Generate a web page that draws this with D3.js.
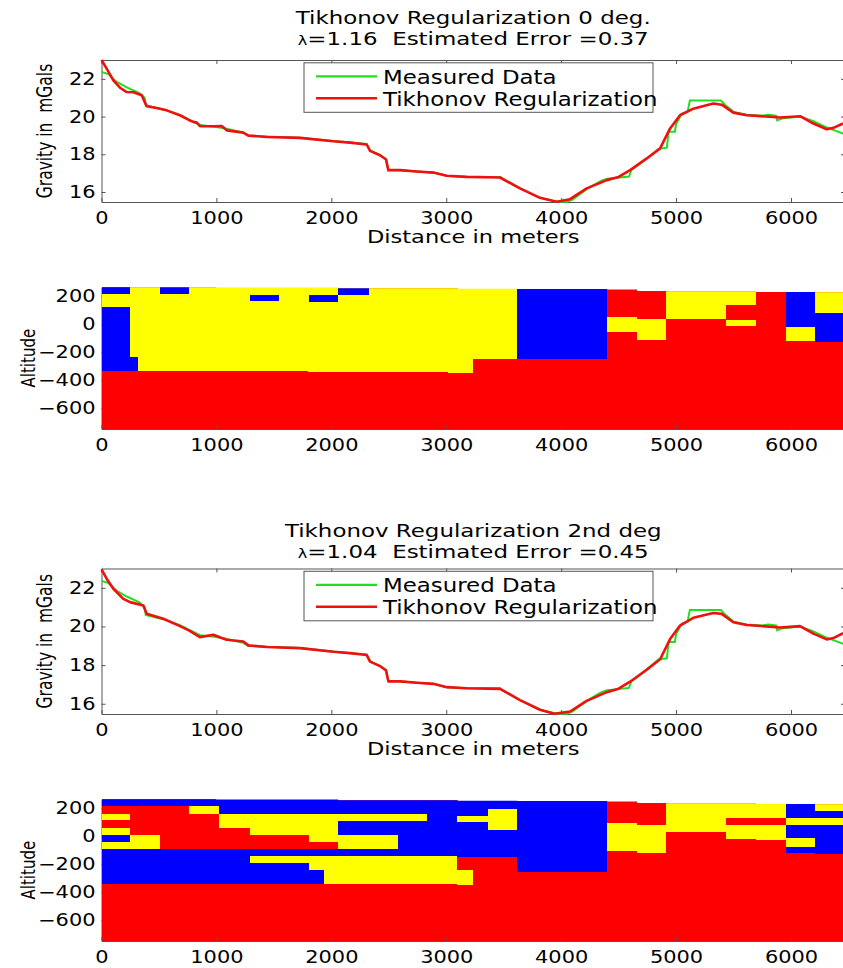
<!DOCTYPE html>
<html>
<head>
<meta charset="utf-8">
<script src="https://cdn.jsdelivr.net/npm/d3@7"></script>
<style>
  body { margin: 0; background: #fff; }
  svg text { font-family: "DejaVu Sans", Verdana, sans-serif; fill: #000; white-space: pre; }
</style>
</head>
<body>
<svg id="fig" width="843" height="968"></svg>
<script>
// ---- data (distance in m, gravity in mGal, altitude in m) ----
var X_TICKS = [0, 1000, 2000, 3000, 4000, 5000, 6000];
var G_TICKS = [16, 18, 20, 22];
var ALT_TICKS = [-600, -400, -200, 0, 200];

var MEASURED = [
  [0, 22.36], [60, 22.25], [130, 21.85], [220, 21.55], [330, 21.25], [375, 21.0], [385, 20.6],
  [480, 20.45], [567, 20.33], [683, 20.07], [799, 19.72], [857, 19.55], [1000, 19.45], [1090, 19.35],
  [1234, 19.15], [1278, 18.99], [1438, 18.95], [1727, 18.88], [2017, 18.70], [2163, 18.62],
  [2308, 18.55], [2337, 18.2], [2424, 17.95], [2476, 17.75], [2496, 17.16], [2598, 17.16],
  [2743, 17.09], [2888, 17.03], [3004, 16.86], [3178, 16.80], [3470, 16.80], [3490, 16.70],
  [3642, 16.19], [3816, 15.69], [3962, 15.48], [4050, 15.48], [4100, 15.60], [4222, 16.15],
  [4350, 16.60], [4400, 16.70], [4590, 16.82], [4610, 17.15], [4745, 17.78], [4850, 18.30],
  [4920, 18.35], [4935, 19.2], [4990, 19.2], [5000, 19.6], [5050, 20.15], [5100, 20.25],
  [5120, 20.85], [5390, 20.85], [5430, 20.6], [5500, 20.25], [5615, 20.1], [5750, 20.05],
  [5800, 20.10], [5870, 20.05], [5880, 19.80], [5920, 19.9], [6079, 20.00], [6195, 19.75],
  [6300, 19.45], [6453, 19.10]
];

var TIKH_0 = [
  [0, 23.0], [45, 22.54], [103, 21.92], [161, 21.53], [219, 21.30], [277, 21.29], [350, 21.13],
  [370, 20.86], [393, 20.55], [480, 20.45], [567, 20.33], [683, 20.07], [760, 19.82], [799, 19.72],
  [830, 19.68], [857, 19.49], [973, 19.49], [1046, 19.50], [1090, 19.27], [1234, 19.15],
  [1278, 18.99], [1438, 18.92], [1727, 18.87], [2017, 18.69], [2163, 18.62], [2308, 18.52],
  [2337, 18.18], [2424, 17.95], [2476, 17.72], [2496, 17.16], [2598, 17.16], [2743, 17.09],
  [2888, 17.03], [3004, 16.86], [3178, 16.80], [3468, 16.77], [3642, 16.19], [3816, 15.69],
  [3962, 15.48], [4077, 15.62], [4222, 16.19], [4397, 16.63], [4500, 16.80], [4600, 17.16],
  [4745, 17.78], [4861, 18.31], [4948, 19.37], [5034, 20.07], [5150, 20.42], [5324, 20.69],
  [5397, 20.63], [5498, 20.21], [5615, 20.07], [5905, 19.95], [6079, 20.02], [6195, 19.63],
  [6311, 19.33], [6369, 19.40], [6453, 19.63]
];

var TIKH_2 = [
  [0, 22.95], [45, 22.47], [103, 21.95], [190, 21.43], [248, 21.26], [364, 21.09], [393, 20.66],
  [538, 20.40], [683, 20.02], [760, 19.80], [799, 19.66], [857, 19.45], [973, 19.57], [1046, 19.40],
  [1090, 19.31], [1234, 19.22], [1278, 19.02], [1438, 18.94], [1727, 18.88], [2017, 18.69],
  [2163, 18.62], [2308, 18.52], [2337, 18.18], [2424, 17.95], [2476, 17.72], [2496, 17.16],
  [2598, 17.16], [2743, 17.09], [2888, 17.03], [3004, 16.86], [3178, 16.80], [3468, 16.77],
  [3642, 16.19], [3816, 15.69], [3940, 15.48], [4077, 15.60], [4222, 16.15], [4397, 16.60],
  [4500, 16.78], [4600, 17.14], [4745, 17.76], [4861, 18.30], [4948, 19.35], [5034, 20.05],
  [5150, 20.45], [5324, 20.70], [5397, 20.65], [5498, 20.22], [5615, 20.08], [5905, 19.95],
  [6079, 20.02], [6195, 19.63], [6311, 19.33], [6369, 19.40], [6453, 19.65]
];

// ground surface of the block model: [from, to, elevation]
var TOPO = [
  [0, 1000, 266], [1000, 2060, 263], [2060, 3100, 259], [3100, 3618, 255], [3618, 4401, 252],
  [4401, 4662, 250], [4662, 4912, 241], [4912, 5695, 236], [5695, 6208, 232], [6208, 6470, 230]
];

// model cells drawn over the red background: [from, to, top, bottom, class]
// a top of 400 means "up to the ground surface"
var CELLS_0 = [
  [250, 1800, 400, -337, 'Y'], [1800, 3018, 400, -341, 'Y'], [3018, 3230, 400, -346, 'Y'],
  [3230, 3618, 400, -250, 'Y'], [0, 250, 219, 121, 'Y'],
  [0, 250, 400, 219, 'B'], [0, 250, 121, -332, 'B'], [250, 315, -234, -332, 'B'],
  [509, 764, 400, 219, 'B'], [1292, 1545, 212, 164, 'B'], [1806, 2061, 207, 162, 'B'],
  [2061, 2325, 400, 210, 'B'], [3618, 4401, 400, -252, 'B'],
  [4401, 4662, 50, -55, 'Y'], [4662, 4912, 38, -115, 'Y'], [4912, 5434, 400, 35, 'Y'],
  [5434, 5695, 400, 136, 'Y'], [5434, 5695, 32, -14, 'Y'],
  [5953, 6208, 400, -17, 'B'], [5953, 6208, -17, -117, 'Y'],
  [6208, 6470, 400, 80, 'Y'], [6208, 6470, 80, -127, 'B']
];

var CELLS_2 = [
  [0, 1025, 400, 215, 'B'], [1025, 2836, 400, 162, 'B'], [2836, 3094, 400, -148, 'B'],
  [3094, 3363, 400, 148, 'B'], [3094, 3363, 148, 105, 'Y'], [3094, 3363, 105, -148, 'B'],
  [3094, 3230, -244, -346, 'Y'],
  [3363, 3618, 400, 198, 'B'], [3363, 3618, 198, 48, 'Y'], [3363, 3618, 48, -150, 'B'],
  [3618, 4401, 400, -255, 'B'],
  [0, 250, 162, 115, 'Y'], [0, 250, 62, 12, 'Y'], [0, 250, 12, -38, 'B'], [0, 250, -38, -90, 'Y'],
  [250, 509, 12, -90, 'Y'], [0, 1292, -90, -339, 'B'],
  [764, 1025, 215, 162, 'Y'], [1025, 1292, 162, 62, 'Y'],
  [1292, 1806, 162, 10, 'Y'], [1292, 1806, -90, -143, 'B'], [1292, 1806, -143, -193, 'Y'],
  [1292, 1806, -193, -339, 'B'],
  [1806, 2061, 162, -40, 'Y'], [1806, 1936, -90, -143, 'B'], [1806, 1936, -143, -244, 'Y'],
  [1806, 1936, -244, -339, 'B'], [1936, 2061, -90, -143, 'B'], [1936, 3094, -143, -339, 'Y'],
  [2061, 2578, 162, 110, 'Y'], [2061, 2578, 110, 12, 'B'], [2061, 2578, 12, -90, 'Y'],
  [2061, 2578, -90, -143, 'B'], [2578, 2836, 162, 110, 'Y'], [2578, 2836, 110, -143, 'B'],
  [4401, 4662, 92, -108, 'Y'], [4662, 4912, 79, -117, 'Y'], [4912, 5434, 400, 31, 'Y'],
  [5434, 5953, 400, 131, 'Y'], [5434, 5695, 79, -17, 'Y'], [5695, 5953, 79, -24, 'Y'],
  [5953, 6208, 400, 131, 'B'], [5953, 6208, 131, 79, 'Y'], [5953, 6208, 79, -15, 'B'],
  [5953, 6208, -15, -75, 'Y'], [5953, 6208, -75, -120, 'B'],
  [6208, 6470, 400, 181, 'Y'], [6208, 6470, 181, 131, 'B'], [6208, 6470, 131, 79, 'Y'],
  [6208, 6470, 79, -124, 'B']
];

// ---- drawing ----
var COLORS = {R: '#ff0000', Y: '#ffff00', B: '#0000ff'};
var AXIS = '#555';
var SX = 1.23;   // the figure is stretched horizontally

var svg = d3.select('#fig');
var x = d3.scaleLinear().domain([0, 6470]).range([101.5, 845]);

function label(g, txt, px, py, size, anchor, sx) {
    return g.append('text')
        .attr('transform', 'translate(' + px + ',' + py + ') scale(' + sx + ',1)')
        .attr('text-anchor', anchor)
        .style('font-size', size + 'px')
        .text(txt);
}

function tidyAxis(g) {
    g.attr('font-family', null).attr('font-size', null);
    g.selectAll('path, line').attr('stroke', AXIS);
}

function bottomAxis(g, yPos) {
    var a = g.append('g')
        .attr('transform', 'translate(0,' + yPos + ')')
        .call(d3.axisBottom(x).tickValues(X_TICKS).tickFormat(d3.format('d'))
            .tickSizeInner(-4).tickSizeOuter(0).tickPadding(9.5));
    tidyAxis(a);
    a.selectAll('text').attr('transform', 'scale(' + SX + ',1)').style('font-size', '17px');
    return a;
}

function leftAxis(g, y, ticks) {
    var a = g.append('g')
        .attr('transform', 'translate(' + x.range()[0] + ',0)')
        .call(d3.axisLeft(y).tickValues(ticks).tickFormat(d3.format('d'))
            .tickSizeInner(-4).tickSizeOuter(0));
    tidyAxis(a);
    a.selectAll('text').attr('x', null)
        .attr('transform', 'translate(-6,0) scale(' + SX + ',1)')
        .style('font-size', '17px');
    return a;
}

function rotLabel(g, txt, px, py, size, thick) {
    g.append('text')
        .attr('transform', 'translate(' + px + ',' + py + ') rotate(-90) scale(1,' + thick + ')')
        .attr('text-anchor', 'middle')
        .style('font-size', size + 'px')
        .text(txt);
}

function gravityPanel(top, bottom, tikh, title1, lam, err, titleY) {
    var g = svg.append('g');
    var y = d3.scaleLinear().domain([15.47, 23.0]).range([bottom, top]);
    var cx = (x.range()[0] + x.range()[1]) / 2;

    // titles
    label(g, title1, cx, titleY[0], 18.5, 'middle', 1.24);
    var t2 = g.append('text')
        .attr('transform', 'translate(' + cx + ',' + titleY[1] + ') scale(1.24,1)')
        .attr('text-anchor', 'middle')
        .style('font-size', '18.5px');
    t2.append('tspan').style('font-size', '13px').text('\u03bb');
    t2.append('tspan').text('=' + lam + '  Estimated Error =' + err);

    // frame
    bottomAxis(g, bottom);
    leftAxis(g, y, G_TICKS);
    var topA = g.append('g').attr('transform', 'translate(0,' + top + ')')
        .call(d3.axisTop(x).tickValues(X_TICKS).tickFormat('').tickSizeInner(-4).tickSizeOuter(0));
    tidyAxis(topA);
    var rightA = g.append('g').attr('transform', 'translate(' + x.range()[1] + ',0)')
        .call(d3.axisRight(y).tickValues(G_TICKS).tickFormat('').tickSizeInner(-4).tickSizeOuter(0));
    tidyAxis(rightA);

    var line = d3.line()
        .x(function(d) { return x(d[0]); })
        .y(function(d) { return y(d[1]); });

    g.append('path').attr('d', line(MEASURED))
        .attr('fill', 'none').attr('stroke', '#1fe01f').attr('stroke-width', 2);
    g.append('path').attr('d', line(tikh))
        .attr('fill', 'none').attr('stroke', '#f01010').attr('stroke-width', 2.6)
        .attr('stroke-linejoin', 'round');

    // axis labels
    label(g, 'Distance in meters', cx, bottom + 40.7, 18.3, 'middle', SX);
    rotLabel(g, 'Gravity in  mGals', 52, (top + bottom) / 2, 15.5, 1.35);

    // legend
    var lg = g.append('g').attr('transform', 'translate(304,' + (top + 2.8) + ')');
    lg.append('rect').attr('width', 349).attr('height', 49.5)
        .attr('fill', '#fff').attr('stroke', AXIS);
    lg.append('line').attr('x1', 12).attr('x2', 73).attr('y1', 13.5).attr('y2', 13.5)
        .attr('stroke', '#1fe01f').attr('stroke-width', 2.2);
    lg.append('line').attr('x1', 12).attr('x2', 73).attr('y1', 35.5).attr('y2', 35.5)
        .attr('stroke', '#f01010').attr('stroke-width', 2.6);
    label(lg, 'Measured Data', 79, 21, 18.6, 'start', SX);
    label(lg, 'Tikhonov Regularization', 79, 43, 18.6, 'start', SX);
}

function modelPanel(top, bottom, cells, id) {
    var g = svg.append('g');
    var y = d3.scaleLinear().domain([-750, 265]).range([bottom, top]);

    leftAxis(g, y, ALT_TICKS);

    // clip to the ground surface
    var surf = [[0, -750]];
    TOPO.forEach(function(s) { surf.push([s[0], s[2]]); surf.push([s[1], s[2]]); });
    surf.push([6470, -750]);
    g.append('clipPath').attr('id', id)
        .append('path')
        .attr('d', d3.line().x(function(d) { return x(d[0]); }).y(function(d) { return y(d[1]); })(surf) + 'Z');

    var body = g.append('g').attr('clip-path', 'url(#' + id + ')')
        .attr('shape-rendering', 'crispEdges');

    body.selectAll('rect.base').data(TOPO).enter().append('rect')
        .attr('class', 'base')
        .attr('x', function(d) { return x(d[0]); })
        .attr('width', function(d) { return x(d[1]) - x(d[0]); })
        .attr('y', function(d) { return y(d[2]); })
        .attr('height', function(d) { return y(-750) - y(d[2]); })
        .attr('fill', COLORS.R);

    body.selectAll('rect.cell').data(cells).enter().append('rect')
        .attr('class', 'cell')
        .attr('x', function(d) { return x(d[0]); })
        .attr('width', function(d) { return x(d[1]) - x(d[0]); })
        .attr('y', function(d) { return y(d[2]); })
        .attr('height', function(d) { return y(d[3]) - y(d[2]); })
        .attr('fill', function(d) { return COLORS[d[4]]; });

    bottomAxis(g, bottom);
    rotLabel(g, 'Altitude', 35, (top + bottom) / 2, 15, 1.35);
}

gravityPanel(60, 202, TIKH_0, 'Tikhonov Regularization 0 deg.', '1.16', '0.37', [24, 45]);
modelPanel(287.3, 429, CELLS_0, 'clip0');
gravityPanel(568.5, 714, TIKH_2, 'Tikhonov Regularization 2nd deg', '1.04', '0.45', [537, 558]);
modelPanel(799.3, 941, CELLS_2, 'clip2');
</script>
</body>
</html>
